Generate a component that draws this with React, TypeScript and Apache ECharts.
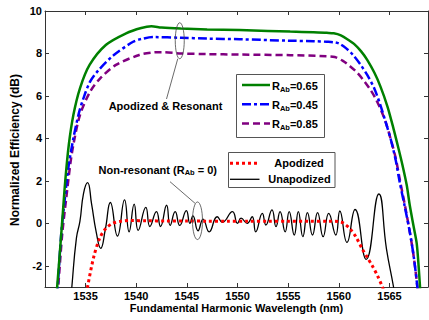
import React, { useEffect, useRef } from "react";
import * as echarts from "echarts";

const wavelengthTicks = [1535, 1540, 1545, 1550, 1555, 1560, 1565];
const efficiencyTicks = [-2, 0, 2, 4, 6, 8, 10];

// R_Ab = 0.65 (green, solid)
const resonant065 = [
  [1532.1, -3.4], [1532.2, -3], [1532.7, 0.1], [1533.0, 2.0], [1533.35, 3.7], [1533.8, 5.1],
  [1534.45, 6.36], [1535.4, 7.46], [1537.0, 8.4], [1539.0, 8.95], [1540.5, 9.2],
  [1541.5, 9.28], [1542.5, 9.22], [1544.4, 9.17], [1547, 9.13], [1550.2, 9.1],
  [1553, 9.06], [1555.2, 9.03], [1557.5, 9.0], [1558.8, 8.97], [1559.5, 8.95],
  [1560.2, 8.85], [1561.0, 8.62], [1561.5, 8.45], [1562.2, 8.1], [1562.8, 7.7],
  [1563.5, 7.1], [1564.1, 6.45], [1564.8, 5.5], [1565.4, 4.45], [1565.9, 3.5],
  [1566.3, 2.7], [1566.7, 1.8], [1567.0, 0.85], [1567.4, -0.2], [1567.7, -1.0],
  [1568.0, -2.9], [1568.05, -3.4],
];

// R_Ab = 0.45 (blue, dash-dot)
const resonant045 = [
  [1532.15, -3.4], [1532.25, -3], [1532.6, -0.5], [1532.9, 0.9], [1533.3, 2.6], [1533.8, 4.0],
  [1534.35, 5.2], [1534.8, 5.9], [1535.45, 6.67], [1536.3, 7.22], [1537.8, 7.93],
  [1539.7, 8.55], [1540.5, 8.68], [1541.7, 8.77], [1544.4, 8.74], [1547, 8.7],
  [1550.2, 8.67], [1555.2, 8.6], [1557.5, 8.58], [1558.8, 8.55], [1559.6, 8.52],
  [1560.1, 8.45], [1560.7, 8.25], [1561.4, 7.93], [1562.1, 7.5], [1562.8, 6.99],
  [1563.5, 6.35], [1564.1, 5.57], [1564.6, 4.8], [1565.1, 4.0], [1565.6, 3.0],
  [1566.0, 1.96], [1566.5, 0.8], [1567.0, -0.4], [1567.4, -1.6], [1567.75, -3],
  [1567.8, -3.4],
];

// R_Ab = 0.85 (purple, dashed)
const resonant085 = [
  [1532.2, -3.4], [1532.3, -3], [1532.7, -0.5], [1533.1, 1.2], [1533.5, 2.8], [1533.8, 3.7],
  [1534.45, 5.1], [1535.45, 6.2], [1536.45, 6.83], [1538.0, 7.46], [1540.3, 7.93],
  [1541.5, 8.04], [1542.5, 8.06], [1544.4, 8.0], [1547, 7.97], [1550.2, 7.95],
  [1555.2, 7.92], [1558.8, 7.87], [1559.6, 7.83], [1560.4, 7.65], [1561.1, 7.4],
  [1561.8, 7.1], [1562.5, 6.7], [1563.1, 6.3], [1563.6, 5.9], [1564.1, 5.4],
  [1564.6, 4.8], [1565.1, 4.0], [1565.6, 3.1], [1566.0, 2.1], [1566.5, 0.9],
  [1567.0, -0.4], [1567.4, -1.6], [1567.75, -3], [1567.8, -3.4],
];

// Non-resonant, apodized (red, dotted)
const apodized = [
  [1535.0, -3.6], [1535.2, -3.0], [1535.8, -1.6], [1536.4, -0.7], [1537.0, -0.24],
  [1537.7, 0.0], [1538.5, 0.1], [1539.5, 0.13], [1541, 0.12], [1543, 0.11],
  [1545, 0.11], [1547, 0.1], [1549, 0.1], [1551, 0.1], [1553, 0.1], [1555, 0.1],
  [1557, 0.1], [1559, 0.1], [1560.2, 0.06], [1560.7, -0.08], [1561.1, -0.25],
  [1561.7, -0.65], [1562.3, -1.2], [1562.8, -1.6], [1563.3, -2.0], [1563.8, -2.45],
  [1564.3, -3.0], [1564.5, -3.3],
];

// Non-resonant, unapodized (black, solid)
const unapodized = [
  [1533.6, -3.4], [1533.65, -3.0], [1534.1, -0.7], [1534.45, 0.1], [1534.8, 1.4],
  [1535.2, 1.92], [1535.6, 0.9], [1536.05, -0.4], [1536.5, -1.18], [1536.95, -0.3],
  [1537.45, 0.98], [1538.15, -0.6], [1538.85, 1.1], [1539.3, -0.4], [1539.8, 0.9],
  [1540.2, -0.33], [1540.95, 0.75], [1541.35, -0.15], [1542.0, 0.55], [1542.4, -0.15],
  [1543.0, 0.85], [1543.35, -0.1], [1543.85, 0.55], [1544.3, -0.1], [1544.95, 0.6],
  [1545.3, 0.0], [1545.6, 0.35], [1546.1, -0.35], [1546.6, 0.2], [1547.2, -0.4],
  [1548.0, 0.31], [1548.5, 0.05], [1549.5, 0.55], [1550.0, 0.0], [1550.35, 0.24],
  [1550.95, 0.0], [1551.45, 0.31], [1551.8, -0.4], [1552.45, 0.47], [1552.8, -0.08],
  [1553.4, 0.63], [1553.8, -0.16], [1554.2, 0.55], [1554.7, -0.4], [1555.1, 0.55],
  [1555.6, -0.55], [1556.0, 0.55], [1556.45, -0.63], [1556.9, 0.5], [1557.4, -0.55],
  [1557.9, 0.5], [1558.45, -0.63], [1559.0, 0.47], [1559.7, -0.55], [1560.1, 0.58],
  [1560.8, -0.9], [1561.6, 0.65], [1562.7, -1.7], [1563.95, 1.38], [1564.7, -1.2],
  [1565.4, -3.0], [1565.5, -3.4],
];

const legendResonant = [
  { ratio: "0.65", color: "#008000", dash: "solid" as any },
  { ratio: "0.45", color: "#0000ff", dash: [9, 3, 3, 3] },
  { ratio: "0.85", color: "#800080", dash: [7, 4] },
];

const FONT = "'Liberation Sans', Arial, Helvetica, sans-serif";
const AXIS_COLOR = "#333";

export default function App() {
  const ref = useRef<HTMLDivElement>(null);

  useEffect(() => {
    if (!ref.current) return;
    const chart = echarts.init(ref.current, undefined, { renderer: "svg" });

    const xCommon = {
      type: "value" as const,
      min: 1531,
      max: 1568.8,
      splitLine: { show: false },
      axisLine: { show: true, onZero: false, lineStyle: { color: AXIS_COLOR, width: 1 } },
      axisTick: { show: true, inside: true, length: 4, customValues: wavelengthTicks, lineStyle: { color: AXIS_COLOR } },
    };
    const yCommon = {
      type: "value" as const,
      min: -3,
      max: 10,
      splitLine: { show: false },
      axisLine: { show: true, onZero: false, lineStyle: { color: AXIS_COLOR, width: 1 } },
      axisTick: { show: true, inside: true, length: 4, customValues: efficiencyTicks, lineStyle: { color: AXIS_COLOR } },
    };

    const mkLine = (name: string, data: number[][], color: string, width: number, type: any, smooth: number) => ({
      name,
      type: "line",
      data,
      showSymbol: false,
      smooth,
      clip: true,
      lineStyle: { color, width, type, cap: "butt" },
      xAxisIndex: 0,
      yAxisIndex: 0,
      z: 2,
    });

    chart.setOption({
      animation: false,
      backgroundColor: "#fff",
      grid: { left: 45, right: 1, top: 11, bottom: 33, containLabel: false },
      xAxis: [
        {
          ...xCommon,
          position: "bottom",
          axisLabel: {
            show: true,
            customValues: wavelengthTicks,
            formatter: (v: number) => String(v),
            margin: 3,
            color: "#000",
            fontFamily: FONT,
            fontWeight: "bold",
            fontSize: 11,
          },
        },
        { ...xCommon, position: "top", axisLabel: { show: false } },
      ],
      yAxis: [
        {
          ...yCommon,
          position: "left",
          axisLabel: {
            show: true,
            customValues: efficiencyTicks,
            formatter: (v: number) => String(v),
            margin: 3,
            color: "#000",
            fontFamily: FONT,
            fontWeight: "bold",
            fontSize: 11,
          },
        },
        { ...yCommon, position: "right", axisLabel: { show: false } },
      ],
      series: [
        mkLine("Unapodized", unapodized, "#000", 1.3, "solid", 0.5),
        mkLine("Apodized", apodized, "#ff0000", 3, [3, 3], 0.3),
        mkLine("R_Ab=0.85", resonant085, "#800080", 2.5, [7, 4], 0.3),
        mkLine("R_Ab=0.45", resonant045, "#0000ff", 2.5, [9, 3, 3, 3], 0.3),
        mkLine("R_Ab=0.65", resonant065, "#008000", 2.5, "solid", 0.3),
      ],
    });

    const toPx = (p: number[]) => chart.convertToPixel({ xAxisIndex: 0, yAxisIndex: 0 }, p) as number[];
    const e1 = toPx([1544.3, 8.6]);
    const e2 = toPx([1546.05, 0.12]);

    const textStyleBase = { fontFamily: FONT, fontWeight: "bold", fontSize: 11, fill: "#000" };
    const richR = {
      r: { fontFamily: FONT, fontWeight: "bold", fontSize: 11, fill: "#000" },
      s: { fontFamily: FONT, fontWeight: "bold", fontSize: 7.5, fill: "#000", padding: [6, 0, 0, 0] },
    };

    const graphic: any[] = [
      {
        type: "ellipse",
        shape: { cx: e1[0], cy: e1[1], rx: 4.5, ry: 18 },
        style: { fill: "none", stroke: "#444", lineWidth: 0.8 },
        z: 10,
      },
      {
        type: "line",
        shape: { x1: e1[0] - 2, y1: e1[1] + 18, x2: 166.5, y2: 99 },
        style: { stroke: "#444", lineWidth: 0.8 },
        z: 10,
      },
      {
        type: "text",
        x: 165.5,
        y: 105.5,
        style: { ...textStyleBase, text: "Apodized & Resonant", align: "center", verticalAlign: "middle" },
        z: 10,
      },
      {
        type: "ellipse",
        shape: { cx: e2[0], cy: e2[1], rx: 5, ry: 18.8 },
        style: { fill: "none", stroke: "#444", lineWidth: 0.8 },
        z: 10,
      },
      {
        type: "line",
        shape: { x1: e2[0] - 2.5, y1: e2[1] - 17.5, x2: 170, y2: 181.7 },
        style: { stroke: "#444", lineWidth: 0.8 },
        z: 10,
      },
      {
        type: "text",
        x: 98.5,
        y: 169.5,
        style: {
          text: "{r|Non-resonant (R}{s|Ab}{r| = 0)}",
          rich: richR,
          align: "left",
          verticalAlign: "middle",
        },
        z: 10,
      },
      {
        type: "rect",
        shape: { x: 236.5, y: 74.5, width: 88, height: 63 },
        style: { fill: "#fff", stroke: "#555", lineWidth: 1 },
        z: 20,
      },
      {
        type: "rect",
        shape: { x: 228.5, y: 152.5, width: 106.5, height: 35 },
        style: { fill: "#fff", stroke: "#555", lineWidth: 1 },
        z: 20,
      },
      {
        type: "line",
        shape: { x1: 230, y1: 163.3, x2: 259.5, y2: 163.3 },
        style: { stroke: "#ff0000", lineWidth: 3, lineDash: [3, 3] },
        z: 21,
      },
      {
        type: "text",
        x: 299,
        y: 163.3,
        style: { ...textStyleBase, text: "Apodized", align: "center", verticalAlign: "middle" },
        z: 21,
      },
      {
        type: "line",
        shape: { x1: 230, y1: 179.3, x2: 259.5, y2: 179.3 },
        style: { stroke: "#000", lineWidth: 1.3 },
        z: 21,
      },
      {
        type: "text",
        x: 299.5,
        y: 179.3,
        style: { ...textStyleBase, text: "Unapodized", align: "center", verticalAlign: "middle" },
        z: 21,
      },
      {
        type: "text",
        x: 236.5,
        y: 307.5,
        style: { ...textStyleBase, text: "Fundamental Harmonic Wavelength (nm)", align: "center", verticalAlign: "middle" },
        z: 10,
      },
      {
        type: "text",
        x: 15,
        y: 150,
        rotation: Math.PI / 2,
        style: { ...textStyleBase, fontSize: 12, text: "Normalized Efficiency (dB)", align: "center", verticalAlign: "middle" },
        z: 10,
      },
    ];

    legendResonant.forEach((item, i) => {
      const y = 85 + i * 19.2;
      graphic.push({
        type: "line",
        shape: { x1: 242, y1: y, x2: 270, y2: y },
        style: { stroke: item.color, lineWidth: 2.5, lineDash: item.dash === "solid" ? null : item.dash },
        z: 21,
      });
      graphic.push({
        type: "text",
        x: 272,
        y: y + 1,
        style: {
          text: `{r|R}{s|Ab}{r|=${item.ratio}}`,
          rich: richR,
          align: "left",
          verticalAlign: "middle",
        },
        z: 21,
      });
    });

    chart.setOption({ graphic });

    return () => chart.dispose();
  }, []);

  return (
    <div
      ref={ref}
      style={{ position: "fixed", left: 0, top: 0, width: 429, height: 320, background: "#fff" }}
    />
  );
}
